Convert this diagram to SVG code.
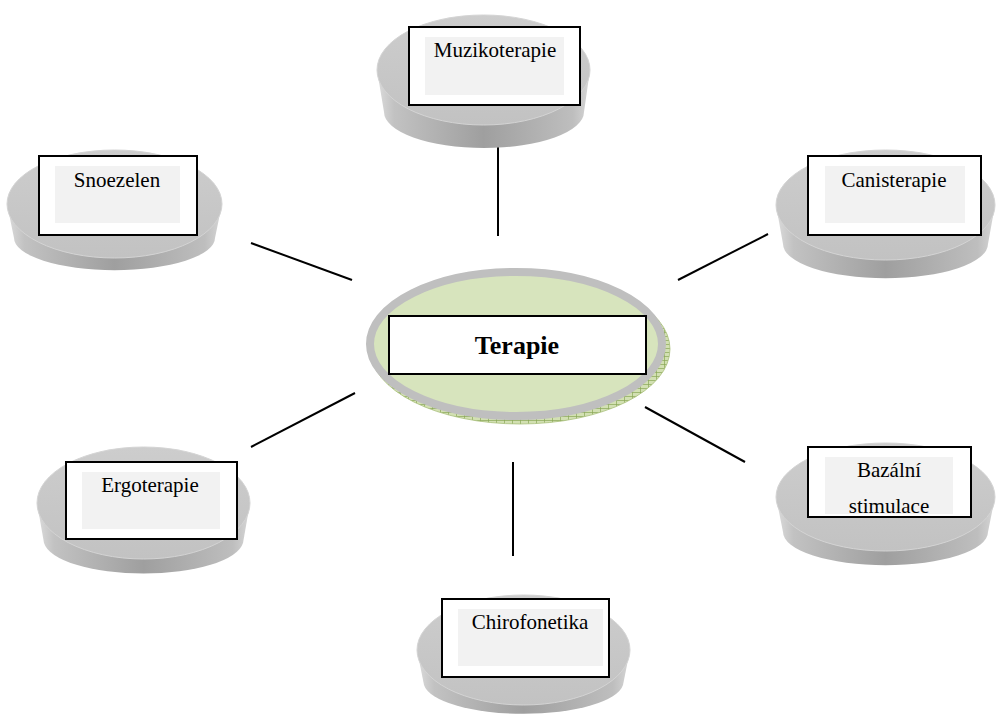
<svg xmlns="http://www.w3.org/2000/svg" width="997" height="715" viewBox="0 0 997 715">
  <defs>
    <linearGradient id="side" x1="0" y1="0" x2="1" y2="0">
      <stop offset="0" stop-color="#dcdcdc"/>
      <stop offset="0.08" stop-color="#c2c2c2"/>
      <stop offset="0.5" stop-color="#9f9f9f"/>
      <stop offset="0.92" stop-color="#bebebe"/>
      <stop offset="1" stop-color="#d6d6d6"/>
    </linearGradient>
    <linearGradient id="top" x1="0" y1="0" x2="0" y2="1">
      <stop offset="0" stop-color="#cdcdcd"/>
      <stop offset="1" stop-color="#c2c2c2"/>
    </linearGradient>
    <pattern id="hatch" width="8" height="4" patternUnits="userSpaceOnUse">
      <rect width="8" height="4" fill="#d2e0b2"/>
      <path d="M0,0.5 H8 M0.5,0 V4" stroke="#8aa656" stroke-width="0.7"/>
    </pattern>
    <clipPath id="clipBaz"><rect x="825" y="457" width="128" height="57"/></clipPath>
  </defs>
  <style>
    .side { fill: url(#side); }
    .top { fill: url(#top); stroke: #d4d4d4; stroke-width: 1; }
    .box { fill: #ffffff; stroke: #000000; stroke-width: 2; }
    .inner { fill: #f2f2f2; }
    .lbl { font-family: "Liberation Serif", "Times New Roman", serif; font-size: 21px; fill: #000000; text-anchor: middle; }
    .conn { stroke: #000000; stroke-width: 2; fill: none; }
  </style>

  <g id="connectors">
    <line class="conn" x1="498" y1="143" x2="498" y2="236"/>
    <line class="conn" x1="513" y1="462" x2="513" y2="556"/>
    <line class="conn" x1="251" y1="243" x2="352" y2="280"/>
    <line class="conn" x1="355" y1="393" x2="251" y2="447"/>
    <line class="conn" x1="678" y1="280" x2="768" y2="234"/>
    <line class="conn" x1="645" y1="407" x2="745" y2="462"/>
  </g>

  <g id="node-terapie">
    <ellipse cx="520" cy="349" rx="150" ry="75" fill="url(#hatch)" stroke="#a8bf7a" stroke-width="0.8"/>
    <ellipse cx="516" cy="344" rx="146" ry="72" fill="#d7e4bd" stroke="#bfbfbf" stroke-width="8"/>
    <rect class="box" x="389" y="316" width="257" height="58"/>
    <text x="517" y="354" font-family="Liberation Serif, Times New Roman, serif" font-size="26" font-weight="bold" text-anchor="middle">Terapie</text>
  </g>

  <g id="node-muzikoterapie">
    <path class="side" d="M377,70 L384,112 A100,36 0 0 0 584,112 L590,70 Z"/>
    <ellipse class="top" cx="483.5" cy="70" rx="106.5" ry="55"/>
    <rect class="box" x="409" y="27" width="171" height="78"/>
    <rect class="inner" x="425" y="37" width="139" height="58"/>
    <text class="lbl" x="495" y="57">Muzikoterapie</text>
  </g>

  <g id="node-snoezelen">
    <path class="side" d="M7,204 L14,238 A100,32 0 0 0 215,238 L222,204 Z"/>
    <ellipse class="top" cx="114.5" cy="204" rx="107.5" ry="54"/>
    <rect class="box" x="39" y="156" width="158" height="79"/>
    <rect class="inner" x="55" y="166" width="125" height="57"/>
    <text class="lbl" x="117" y="187">Snoezelen</text>
  </g>

  <g id="node-canisterapie">
    <path class="side" d="M776,205 L783,244 A102,34 0 0 0 988,244 L995,205 Z"/>
    <ellipse class="top" cx="885.5" cy="205" rx="109.5" ry="55"/>
    <rect class="box" x="808" y="156" width="173" height="79"/>
    <rect class="inner" x="825" y="166" width="140" height="57"/>
    <text class="lbl" x="894" y="187">Canisterapie</text>
  </g>

  <g id="node-bazalni">
    <path class="side" d="M776,497 L783,532 A102,33 0 0 0 988,532 L995,497 Z"/>
    <ellipse class="top" cx="885.5" cy="497" rx="109.5" ry="54"/>
    <rect class="box" x="808" y="447" width="163" height="70"/>
    <rect class="inner" x="825" y="457" width="128" height="57"/>
    <g clip-path="url(#clipBaz)">
      <text class="lbl" x="889" y="477">Bazální</text>
      <text class="lbl" x="889" y="513">stimulace</text>
    </g>
  </g>

  <g id="node-ergoterapie">
    <path class="side" d="M37,503 L44,543 A100,34 0 0 0 243,543 L250,503 Z"/>
    <ellipse class="top" cx="143.5" cy="503" rx="106.5" ry="56"/>
    <rect class="box" x="66" y="462" width="171" height="77"/>
    <rect class="inner" x="82" y="472" width="138" height="57"/>
    <text class="lbl" x="150" y="492">Ergoterapie</text>
  </g>

  <g id="node-chirofonetika">
    <path class="side" d="M417,650 L424,685 A100,32 0 0 0 623,685 L630,650 Z"/>
    <ellipse class="top" cx="523.5" cy="650" rx="106.5" ry="55"/>
    <rect class="box" x="442" y="599" width="167" height="78"/>
    <rect class="inner" x="458" y="609" width="145" height="57"/>
    <text class="lbl" x="530" y="629">Chirofonetika</text>
  </g>
</svg>
